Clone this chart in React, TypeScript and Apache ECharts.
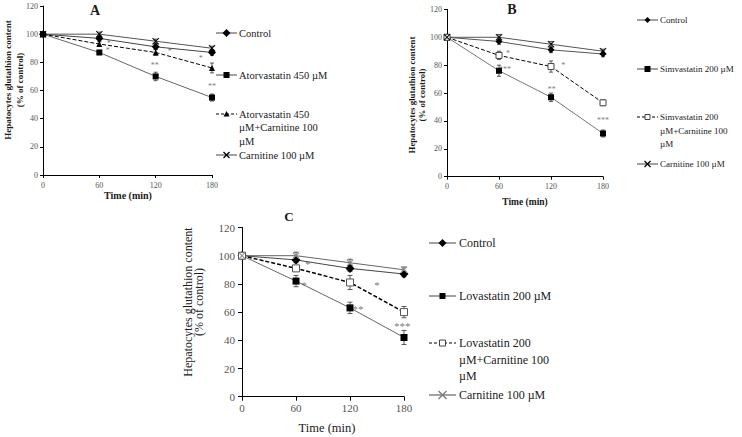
import React, { useEffect, useRef } from 'react';
import * as echarts from 'echarts';

const times = [0, 60, 120, 180];

// Panel A
const aControl = [100, 97, 91, 87];
const aControlErr = [0, 2, 2, 2];
const aAtorva = [100, 87, 70, 55];
const aAtorvaErr = [0, 1.5, 3, 2.5];
const aAtorvaCarn = [100, 93, 87, 76];
const aAtorvaCarnErr = [0, 1.5, 2, 3.5];
const aCarnitine = [100, 100, 95, 90];
const aCarnitineErr = [0, 1.5, 1.5, 1.5];
const aStars: [number, number, string][] = [[70, 95, '*'], [69, 89.5, '*'], [119, 79.5, '**'], [135, 89, '*'], [168, 84, '*'], [180, 64, '**']];

// Panel B
const bControl = [100, 97, 91, 88];
const bControlErr = [0, 2, 2, 2];
const bSimva = [100, 76, 57, 31];
const bSimvaErr = [0, 4, 3, 2.5];
const bSimvaCarn = [100, 87, 79, 53];
const bSimvaCarnErr = [0, 3, 4, 2];
const bCarnitine = [100, 100, 95, 90];
const bCarnitineErr = [0, 2, 2, 1.5];
const bStars: [number, number, string][] = [[70.5, 89.5, '*'], [67, 78, '***'], [134, 81.5, '*'], [121, 64, '**'], [194, 63.6, '*'], [180, 42, '***']];

// Panel C
const cControl = [100, 97, 91, 87];
const cControlErr = [0, 2, 2, 2];
const cLova = [100, 82, 63, 42];
const cLovaErr = [0, 4, 4, 5];
const cLovaCarn = [100, 91, 81, 60];
const cLovaCarnErr = [0, 2, 5, 4];
const cCarnitine = [100, 100, 95, 90];
const cCarnitineErr = [0, 2.5, 2.5, 2];
const cStars: [number, number, string][] = [[73, 96, '*'], [69, 81, '*'], [150, 81, '*'], [129, 64, '**'], [185.5, 73, '*'], [178, 52, '***']];

const SERIF = '"Liberation Serif", "DejaVu Serif", serif';
const X_PATH = 'path://M0,1L1,0L5,4L9,0L10,1L6,5L10,9L9,10L5,6L1,10L0,9L4,5Z';

function axesFor(gi: number, fs: number, xMargin: number, yMargin: number, tickLen: number) {
  const common = {
    gridIndex: gi,
    type: 'value' as const,
    axisLine: { show: true, onZero: false, lineStyle: { color: '#000', width: 1 } },
    axisTick: { show: true, length: tickLen, inside: false, lineStyle: { color: '#000', width: 1 } },
    splitLine: { show: false },
  };
  return {
    x: { ...common, min: 0, max: 180, interval: 60, axisLabel: { color: '#555', fontSize: fs, fontFamily: SERIF, margin: xMargin } },
    y: { ...common, min: 0, max: 120, interval: 20, axisLabel: { color: '#555', fontSize: fs, fontFamily: SERIF, margin: yMargin } },
  };
}

function lineSeries(gi: number, vals: number[], opt: any) {
  return {
    type: 'line',
    xAxisIndex: gi,
    yAxisIndex: gi,
    data: times.map((t, i) => [t, vals[i]]),
    symbol: opt.symbol,
    symbolSize: opt.size,
    showSymbol: true,
    lineStyle: { color: opt.lineColor, width: opt.width || 1, type: opt.dashed ? [4, 2] : 'solid' },
    itemStyle: {
      color: opt.fill || opt.symColor || '#000',
      borderWidth: opt.borderWidth || 0,
      borderColor: opt.symColor || '#000',
    },
    z: opt.z || 3,
  };
}

function errSeries(gi: number, vals: number[], errs: number[], cap: number) {
  return {
    type: 'custom',
    xAxisIndex: gi,
    yAxisIndex: gi,
    data: times.map((t, i) => [t, vals[i], errs[i]]).filter((d) => d[2] > 0),
    z: 2,
    renderItem: (params: any, api: any) => {
      const x = api.value(0);
      const y = api.value(1);
      const e = api.value(2);
      const top = api.coord([x, y + e]);
      const bot = api.coord([x, y - e]);
      const st = { stroke: '#333', lineWidth: 0.8 };
      return {
        type: 'group',
        children: [
          { type: 'line', shape: { x1: top[0], y1: top[1], x2: bot[0], y2: bot[1] }, style: st },
          { type: 'line', shape: { x1: top[0] - cap, y1: top[1], x2: top[0] + cap, y2: top[1] }, style: st },
          { type: 'line', shape: { x1: bot[0] - cap, y1: bot[1], x2: bot[0] + cap, y2: bot[1] }, style: st },
        ],
      };
    },
  };
}

function starSeries(gi: number, stars: [number, number, string][], fs: number) {
  return {
    type: 'scatter',
    xAxisIndex: gi,
    yAxisIndex: gi,
    data: stars.map((s) => [s[0], s[1], s[2]]),
    symbolSize: 1,
    itemStyle: { color: 'rgba(0,0,0,0)' },
    z: 4,
    label: {
      show: true,
      position: 'inside',
      formatter: (p: any) => p.value[2],
      color: '#555',
      fontSize: fs,
      fontFamily: SERIF,
      offset: [0, fs * 0.25],
    },
  };
}

function symShape(kind: string, cx: number, cy: number, s: number, color: string) {
  if (kind === 'diamond') {
    return [{ type: 'polygon', shape: { points: [[cx, cy - s], [cx + s, cy], [cx, cy + s], [cx - s, cy]] }, style: { fill: color } }];
  }
  if (kind === 'square') {
    return [{ type: 'rect', shape: { x: cx - s, y: cy - s, width: 2 * s, height: 2 * s }, style: { fill: color } }];
  }
  if (kind === 'triangle') {
    return [{ type: 'polygon', shape: { points: [[cx, cy - s], [cx + s, cy + s * 0.8], [cx - s, cy + s * 0.8]] }, style: { fill: color } }];
  }
  if (kind === 'open') {
    return [{ type: 'rect', shape: { x: cx - s, y: cy - s, width: 2 * s, height: 2 * s }, style: { fill: '#fff', stroke: color, lineWidth: 1 } }];
  }
  // X
  return [
    { type: 'line', shape: { x1: cx - s, y1: cy - s, x2: cx + s, y2: cy + s }, style: { stroke: color, lineWidth: 1.2 } },
    { type: 'line', shape: { x1: cx - s, y1: cy + s, x2: cx + s, y2: cy - s }, style: { stroke: color, lineWidth: 1.2 } },
  ];
}

function legendItem(x0: number, x1: number, y: number, kind: string, dashed: boolean, symColor: string, s: number, textX: number, text: string, fs: number, lh: number) {
  return [
    { type: 'line', shape: { x1: x0, y1: y, x2: x1, y2: y }, style: { stroke: dashed ? '#000' : '#444', lineWidth: 1, lineDash: dashed ? [3, 2] : null } },
    ...symShape(kind, (x0 + x1) / 2, y, s, symColor),
    {
      type: 'text',
      x: textX,
      y: y - lh / 2,
      style: { text, fill: '#1a1a1a', font: `${fs}px ${SERIF}`, lineHeight: lh, align: 'left', verticalAlign: 'top' },
    },
  ].map((e) => ({ ...e, silent: true })) as any[];
}

function vText(x: number, y: number, text: string, fs: number, bold: boolean) {
  return {
    type: 'text',
    x,
    y,
    rotation: Math.PI / 2,
    style: { text, fill: '#1a1a1a', font: `${bold ? 'bold ' : ''}${fs}px ${SERIF}`, align: 'center', verticalAlign: 'middle' },
  };
}

function hText(x: number, y: number, text: string, fs: number, bold: boolean) {
  return {
    type: 'text',
    x,
    y,
    style: { text, fill: '#1a1a1a', font: `${bold ? 'bold ' : ''}${fs}px ${SERIF}`, align: 'center', verticalAlign: 'middle' },
  };
}

export default function App() {
  const ref = useRef<HTMLDivElement>(null);
  useEffect(() => {
    if (!ref.current) return;
    const chart = echarts.init(ref.current, null, { renderer: 'svg' });
    const A = axesFor(0, 8, 6, 5, 3);
    const B = axesFor(1, 8, 6, 5, 3);
    const C = axesFor(2, 11, 6, 7, 4);

    const graphic: any[] = [
      // Panel A
      hText(95, 10, 'A', 14, true),
      vText(8, 80, 'Hepatocytes glutathion content', 9, true),
      vText(19.5, 80, '(% of control)', 9, true),
      hText(128, 195, 'Time (min)', 10, true),
      ...legendItem(216, 237, 33, 'diamond', false, '#000', 4, 239, 'Control', 10.5, 13.5),
      ...legendItem(216, 237, 75, 'square', false, '#000', 3, 239, 'Atorvastatin 450 µM', 10.5, 13.5),
      ...legendItem(216, 237, 114, 'triangle', true, '#000', 3, 239, 'Atorvastatin 450\nµM+Carnitine 100\nµM', 10.5, 13.5),
      ...legendItem(216, 237, 155, 'x', false, '#000', 3, 239, 'Carnitine 100 µM', 10.5, 13.5),
      // Panel B
      hText(512, 9, 'B', 14, true),
      vText(412, 95, 'Hepatocytes glutathion content', 8.8, true),
      vText(422, 95, '(% of control)', 8.8, true),
      hText(525, 201.5, 'Time (min)', 9.5, true),
      ...legendItem(637, 658, 20, 'diamond', false, '#000', 3, 660, 'Control', 9, 13.5),
      ...legendItem(637, 658, 69, 'square', false, '#000', 3, 660, 'Simvastatin 200 µM', 9, 13.5),
      ...legendItem(637, 658, 117, 'open', true, '#444', 2.5, 660, 'Simvastatin 200\nµM+Carnitine 100\nµM', 9, 13.5),
      ...legendItem(637, 658, 164, 'x', false, '#000', 3, 660, 'Carnitine 100 µM', 9, 13.5),
      // Panel C
      hText(289, 216, 'C', 13, true),
      vText(187.5, 302, 'Hepatocytes glutathion content', 12, false),
      vText(198.5, 302, '(% of control)', 12, false),
      hText(327, 428, 'Time (min)', 12.5, false),
      ...legendItem(429, 456, 243, 'diamond', false, '#000', 4, 459, 'Control', 12, 16.5),
      ...legendItem(429, 456, 296, 'square', false, '#000', 3, 459, 'Lovastatin 200 µM', 12, 16.5),
      ...legendItem(429, 456, 343, 'open', true, '#444', 3, 459, 'Lovastatin 200\nµM+Carnitine 100\nµM', 12, 16.5),
      ...legendItem(429, 456, 395, 'x', false, '#777', 4, 459, 'Carnitine 100 µM', 12, 16.5),
    ];

    chart.setOption({
      animation: false,
      backgroundColor: '#fff',
      grid: [
        { left: 43, top: 6, width: 169, height: 169 },
        { left: 447, top: 9.4, width: 156, height: 167.3 },
        { left: 242, top: 227.5, width: 162, height: 169.2 },
      ],
      xAxis: [A.x, B.x, C.x],
      yAxis: [A.y, B.y, C.y],
      graphic,
      series: [
        // A
        errSeries(0, aControl, aControlErr, 2),
        errSeries(0, aAtorva, aAtorvaErr, 2),
        errSeries(0, aAtorvaCarn, aAtorvaCarnErr, 2),
        errSeries(0, aCarnitine, aCarnitineErr, 2),
        lineSeries(0, aControl, { symbol: 'diamond', size: 8, lineColor: '#444' }),
        lineSeries(0, aAtorva, { symbol: 'rect', size: 6, lineColor: '#666' }),
        lineSeries(0, aAtorvaCarn, { symbol: 'triangle', size: 6, lineColor: '#000', dashed: true }),
        lineSeries(0, aCarnitine, { symbol: X_PATH, size: 7, lineColor: '#555' }),
        starSeries(0, aStars, 8),
        // B
        errSeries(1, bControl, bControlErr, 2),
        errSeries(1, bSimva, bSimvaErr, 2),
        errSeries(1, bSimvaCarn, bSimvaCarnErr, 2),
        errSeries(1, bCarnitine, bCarnitineErr, 2),
        lineSeries(1, bControl, { symbol: 'diamond', size: 7, lineColor: '#555' }),
        lineSeries(1, bSimva, { symbol: 'rect', size: 6, lineColor: '#777' }),
        lineSeries(1, bSimvaCarn, { symbol: 'rect', size: 6, lineColor: '#000', dashed: true, fill: '#fff', symColor: '#444', borderWidth: 1 }),
        lineSeries(1, bCarnitine, { symbol: X_PATH, size: 7, lineColor: '#555' }),
        starSeries(1, bStars, 8),
        // C
        errSeries(2, cControl, cControlErr, 2.5),
        errSeries(2, cLova, cLovaErr, 2.5),
        errSeries(2, cLovaCarn, cLovaCarnErr, 2.5),
        errSeries(2, cCarnitine, cCarnitineErr, 2.5),
        lineSeries(2, cControl, { symbol: 'diamond', size: 9, lineColor: '#444' }),
        lineSeries(2, cLova, { symbol: 'rect', size: 7, lineColor: '#666' }),
        lineSeries(2, cLovaCarn, { symbol: 'rect', size: 7, lineColor: '#000', dashed: true, fill: '#fff', symColor: '#555', borderWidth: 1, width: 1.5 }),
        lineSeries(2, cCarnitine, { symbol: X_PATH, size: 7, lineColor: '#666', symColor: '#888' }),
        starSeries(2, cStars, 11),
      ],
    });
    return () => chart.dispose();
  }, []);
  return <div ref={ref} style={{ position: 'fixed', left: 0, top: 0, width: 742, height: 437 }} />;
}
